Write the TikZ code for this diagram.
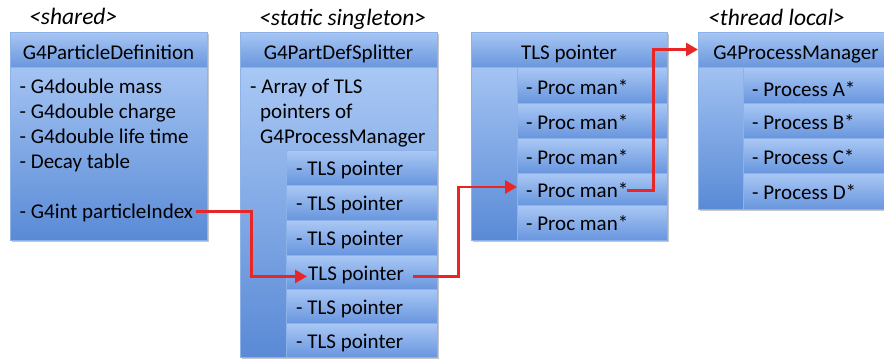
\documentclass[tikz,border=0pt]{standalone}
\usepackage{fontspec}
\setmainfont{Carlito}
\usetikzlibrary{arrows.meta,shadows}
\definecolor{hdrtop}{RGB}{168,198,244}
\definecolor{hdrbot}{RGB}{106,151,221}
\definecolor{bodytop}{RGB}{178,207,248}
\definecolor{bodybot}{RGB}{90,138,214}
\definecolor{rowtop}{RGB}{170,200,245}
\definecolor{rowbot}{RGB}{104,150,222}
\definecolor{edgeblue}{RGB}{140,178,232}
\definecolor{arrowred}{RGB}{232,38,38}
\begin{document}
\begin{tikzpicture}[x=1pt,y=-1pt,
  part/.style={anchor=north west,inner sep=0pt,outer sep=0pt,draw=edgeblue,line width=0.6pt},
  bodysh/.style={part,top color=bodytop,bottom color=bodybot,
     drop shadow={shadow xshift=1.5pt,shadow yshift=-2pt,fill=black,opacity=0.22}},
  hdrsh/.style={part,top color=hdrtop,bottom color=hdrbot},
  rowsh/.style={part,top color=rowtop,bottom color=rowbot},
  txt/.style={anchor=base west,inner sep=0pt,font=\fontsize{21}{24}\selectfont},
  htxt/.style={anchor=base,inner sep=0pt,font=\fontsize{21}{24}\selectfont},
  lbl/.style={anchor=base west,inner sep=0pt,font=\fontsize{23.5}{26}\selectfont\itshape},
  link/.style={draw=arrowred,line width=2.8pt,-{Triangle[length=12pt,width=13pt]}},
]
\useasboundingbox (0,0) rectangle (884,360);
\clip (0,0) rectangle (884,360);

% labels
\node[lbl] (l1) at (29,24) {<shared>};
\node[lbl] (l2) at (259,25) {<static singleton>};
\node[lbl] (l3) at (708,25) {<thread local>};

% ---- box 1
\node[bodysh,minimum width=197pt,minimum height=208pt] (b1) at (10,32) {};
\node[hdrsh,minimum width=197pt,minimum height=35pt] (b1h) at (10,32) {};
\node[htxt] (t1h) at (108.5,59) {G4ParticleDefinition};
\node[txt] (t1a) at (19.5,93) {- G4double mass};
\node[txt] (t1b) at (19.5,118) {- G4double charge};
\node[txt] (t1c) at (19.5,143) {- G4double life time};
\node[txt] (t1d) at (19.5,168) {- Decay table};
\node[txt] (pidx) at (19.5,218) {- G4int particleIndex};

% ---- box 2
\node[bodysh,minimum width=197pt,minimum height=325pt] (b2) at (240,32) {};
\node[hdrsh,minimum width=197pt,minimum height=35pt] (b2h) at (240,32) {};
\node[htxt] (t2h) at (338.5,59) {G4PartDefSplitter};
\node[txt] (t2a) at (250,93) {- Array of TLS};
\node[txt] (t2b) at (260,118) {pointers of};
\node[txt] (t2c) at (260,143) {G4ProcessManager};
\node[rowsh,minimum width=151pt,minimum height=35pt] (b2r1) at (286,150) {};
\node[rowsh,minimum width=151pt,minimum height=35pt] (b2r2) at (286,185) {};
\node[rowsh,minimum width=151pt,minimum height=35pt] (b2r3) at (286,220) {};
\node[rowsh,minimum width=151pt,minimum height=34pt] (b2r4) at (286,255) {};
\node[rowsh,minimum width=151pt,minimum height=34pt] (b2r5) at (286,289) {};
\node[rowsh,minimum width=151pt,minimum height=34pt] (b2r6) at (286,323) {};
\node[txt] (t2r1) at (296,175.5) {- TLS pointer};
\node[txt] (t2r2) at (296,210.5) {- TLS pointer};
\node[txt] (t2r3) at (296,245.5) {- TLS pointer};
\node[txt] (t2r4) at (308,280) {TLS pointer};
\node[txt] (t2r5) at (296,314) {- TLS pointer};
\node[txt] (t2r6) at (296,348) {- TLS pointer};

% ---- box 3
\node[bodysh,minimum width=196pt,minimum height=208pt] (b3) at (471,32) {};
\node[hdrsh,minimum width=196pt,minimum height=35pt] (b3h) at (471,32) {};
\node[htxt] (t3h) at (569,59) {TLS pointer};
\node[rowsh,minimum width=150pt,minimum height=36pt] (b3r1) at (517,67) {};
\node[rowsh,minimum width=150pt,minimum height=35pt] (b3r2) at (517,103) {};
\node[rowsh,minimum width=150pt,minimum height=35pt] (b3r3) at (517,138) {};
\node[rowsh,minimum width=150pt,minimum height=32pt] (b3r4) at (517,173) {};
\node[rowsh,minimum width=150pt,minimum height=35pt] (b3r5) at (517,205) {};
\node[txt] (t3r1) at (526,94.5) {- Proc man*};
\node[txt] (t3r2) at (526,129) {- Proc man*};
\node[txt] (t3r3) at (526,164) {- Proc man*};
\node[txt] (t3r4) at (526,197.5) {- Proc man*};
\node[txt] (t3r5) at (526,230.5) {- Proc man*};

% ---- box 4
\node[bodysh,minimum width=196pt,minimum height=177pt] (b4) at (698,32) {};
\node[hdrsh,minimum width=196pt,minimum height=35pt] (b4h) at (698,32) {};
\node[htxt] (t4h) at (796,59) {G4ProcessManager};
\node[rowsh,minimum width=151pt,minimum height=36pt] (b4r1) at (743,67) {};
\node[rowsh,minimum width=151pt,minimum height=35pt] (b4r2) at (743,103) {};
\node[rowsh,minimum width=151pt,minimum height=35pt] (b4r3) at (743,138) {};
\node[rowsh,minimum width=151pt,minimum height=36pt] (b4r4) at (743,173) {};
\node[txt] (t4r1) at (752,96) {- Process A*};
\node[txt] (t4r2) at (752,129) {- Process B*};
\node[txt] (t4r3) at (752,164) {- Process C*};
\node[txt] (t4r4) at (752,199) {- Process D*};

% ---- connectors
\draw[link] ([xshift=3pt,yshift=1pt]pidx.east) -- ++(55,0) |- ([xshift=-1pt,yshift=-2pt]t2r4.west);
\draw[link] ([xshift=9pt,yshift=-2pt]t2r4.east) -- ++(45,0) |- ([yshift=2pt]b3r4.west);
\draw[link] ([xshift=-1pt]t3r4.east) -- ++(26,0) |- (b4h.west);
\end{tikzpicture}
\end{document}
